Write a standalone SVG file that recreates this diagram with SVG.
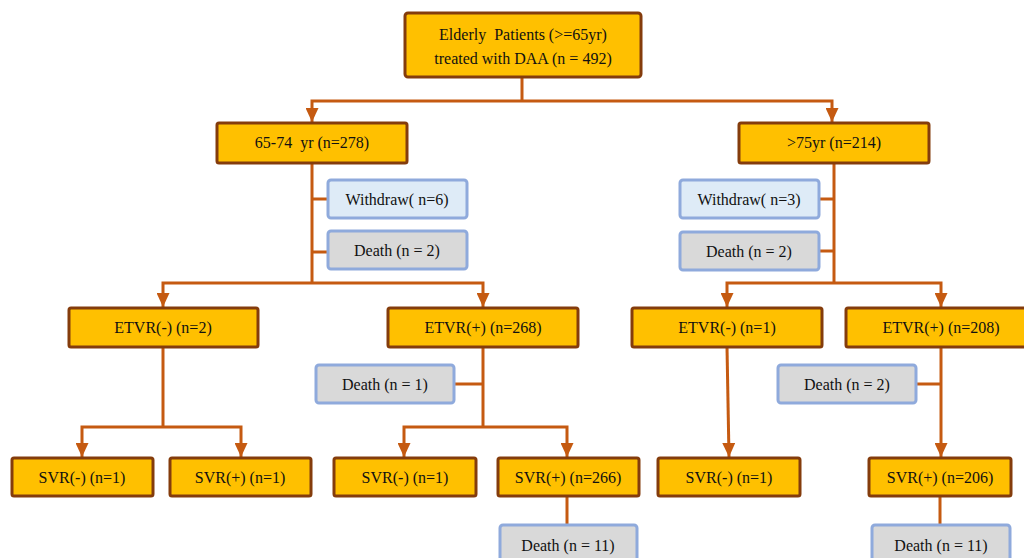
<svg xmlns="http://www.w3.org/2000/svg" width="1024" height="558" viewBox="0 0 1024 558">
<style>
.y{fill:#FFC000;stroke:#843C0C;stroke-width:3}
.b{fill:#DEEBF7;stroke:#8FAADC;stroke-width:3}
.g{fill:#D9D9D9;stroke:#8FAADC;stroke-width:3}
text{font-family:"Liberation Serif","Times New Roman",serif;font-size:16px;fill:#111;text-anchor:middle;white-space:pre}
.c path{fill:none;stroke:#C55A11;stroke-width:3}
</style>
<defs>
<marker id="ah" viewBox="0 0 14 13" refX="14" refY="6.5" markerWidth="14" markerHeight="13" markerUnits="userSpaceOnUse" orient="auto">
<path d="M0,0 L14,6.5 L0,13 Z" fill="#C55A11"/>
</marker>
</defs>
<rect width="1024" height="558" fill="#fff"/>
<g class="c" id="connectors">
<path d="M522,77 V101"/>
<path d="M522,101 H312 V122" marker-end="url(#ah)"/>
<path d="M522,101 H832 V122" marker-end="url(#ah)"/>
<path d="M312,163 V283"/>
<path d="M312,199 H328"/>
<path d="M312,252 H328"/>
<path d="M312,283 H163 V307" marker-end="url(#ah)"/>
<path d="M312,283 H483 V307" marker-end="url(#ah)"/>
<path d="M834,163 V283"/>
<path d="M834,199 H819"/>
<path d="M834,251 H819"/>
<path d="M834,283 H727 V307" marker-end="url(#ah)"/>
<path d="M834,283 H941 V307" marker-end="url(#ah)"/>
<path d="M163,347 V427"/>
<path d="M163,427 H82 V457" marker-end="url(#ah)"/>
<path d="M163,427 H241 V457" marker-end="url(#ah)"/>
<path d="M483,347 V427"/>
<path d="M483,384 H454"/>
<path d="M483,427 H404 V457" marker-end="url(#ah)"/>
<path d="M483,427 H567 V457" marker-end="url(#ah)"/>
<path d="M567,496 V525"/>
<path d="M727,347 L729,457" marker-end="url(#ah)"/>
<path d="M941,347 V457" marker-end="url(#ah)"/>
<path d="M941,384 H916"/>
<path d="M940,496 V525"/>
</g>
<g id="root"><rect class="y" x="405" y="13" width="236" height="64" rx="3"/><text x="523" y="40">Elderly  Patients (&gt;=65yr)</text><text x="523" y="64">treated with DAA (n = 492)</text></g>
<g id="age6574"><rect class="y" x="217" y="123" width="190" height="40" rx="2"/><text x="312" y="148">65-74  yr (n=278)</text></g>
<g id="age75"><rect class="y" x="739" y="123" width="190" height="40" rx="2"/><text x="834" y="148">&gt;75yr (n=214)</text></g>
<g id="withdraw1"><rect class="b" x="328" y="180" width="139" height="38" rx="3"/><text x="397" y="205">Withdraw( n=6)</text></g>
<g id="death1"><rect class="g" x="328" y="231" width="139" height="38" rx="3"/><text x="397" y="256">Death (n = 2)</text></g>
<g id="withdraw2"><rect class="b" x="680" y="180" width="139" height="38" rx="3"/><text x="749" y="205">Withdraw( n=3)</text></g>
<g id="death2"><rect class="g" x="680" y="232" width="139" height="38" rx="3"/><text x="749" y="257">Death (n = 2)</text></g>
<g id="etvrNeg1"><rect class="y" x="69" y="308" width="189" height="39" rx="2"/><text x="163" y="333">ETVR(-) (n=2)</text></g>
<g id="etvrPos1"><rect class="y" x="388" y="308" width="190" height="39" rx="2"/><text x="483" y="333">ETVR(+) (n=268)</text></g>
<g id="death3"><rect class="g" x="316" y="365" width="138" height="38" rx="3"/><text x="385" y="390">Death (n = 1)</text></g>
<g id="etvrNeg2"><rect class="y" x="632" y="308" width="190" height="39" rx="2"/><text x="727" y="333">ETVR(-) (n=1)</text></g>
<g id="etvrPos2"><rect class="y" x="846" y="308" width="190" height="39" rx="2"/><text x="941" y="333">ETVR(+) (n=208)</text></g>
<g id="death4"><rect class="g" x="778" y="365" width="138" height="38" rx="3"/><text x="847" y="390">Death (n = 2)</text></g>
<g id="svr1"><rect class="y" x="12" y="458" width="141" height="38" rx="2"/><text x="82" y="483">SVR(-) (n=1)</text></g>
<g id="svr2"><rect class="y" x="170" y="458" width="141" height="38" rx="2"/><text x="240" y="483">SVR(+) (n=1)</text></g>
<g id="svr3"><rect class="y" x="334" y="458" width="142" height="38" rx="2"/><text x="405" y="483">SVR(-) (n=1)</text></g>
<g id="svr4"><rect class="y" x="498" y="458" width="141" height="38" rx="2"/><text x="568" y="483">SVR(+) (n=266)</text></g>
<g id="death5"><rect class="g" x="500" y="525" width="137" height="40" rx="3"/><text x="568" y="551">Death (n = 11)</text></g>
<g id="svr5"><rect class="y" x="658" y="458" width="142" height="38" rx="2"/><text x="729" y="483">SVR(-) (n=1)</text></g>
<g id="svr6"><rect class="y" x="869" y="458" width="142" height="38" rx="2"/><text x="940" y="483">SVR(+) (n=206)</text></g>
<g id="death6"><rect class="g" x="872" y="525" width="138" height="40" rx="3"/><text x="941" y="551">Death (n = 11)</text></g>
</svg>
